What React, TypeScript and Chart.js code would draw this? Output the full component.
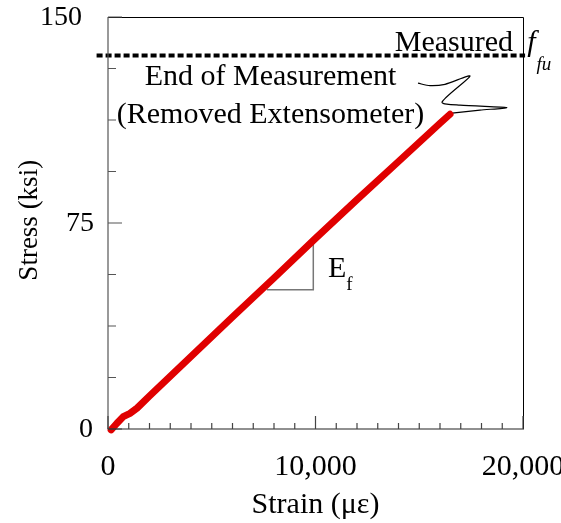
import React, { useEffect, useRef } from "react";
import { Chart, registerables } from "chart.js";

Chart.register(...registerables);

// Measured stress-strain curve (strain in microstrain, stress in ksi)
const strain = [150, 420, 737, 1060, 1400, 2000, 4000, 6000, 8000, 10000, 12000, 14000, 16000, 16482];
const stress = [-0.3, 2.0, 4.5, 5.7, 7.6, 12.0, 26.4, 40.8, 55.0, 69.4, 83.5, 97.4, 111.3, 114.6];

// Measured ultimate strength f_fu
const fFu = 136;
const fFuStrain = [-550, 20100];

// Slope triangle for E_f
const triStrain = [7653, 9894, 9894];
const triStress = [50.7, 50.7, 69.2];

// Callout (zig-zag leader) to end of measurement
const calloutStrain = [14940, 15518, 16241, 17446, 16096, 16964, 19214, 17928, 16578];
const calloutStress = [125.9, 125.0, 125.5, 128.5, 119.0, 117.9, 117.0, 116.1, 115.0];

// Axis ticks and labels
const xMinorTicks = [1000, 2000, 3000, 4000, 5000, 6000, 7000, 8000, 9000, 11000, 12000, 13000, 14000, 15000, 16000, 17000, 18000, 19000];
const xMajorTicks = [0, 10000, 20000];
const xTickLabels = ["0", "10,000", "20,000"];
const yMinorTicks = [18.75, 37.5, 56.25, 93.75, 112.5, 131.25];
const yMajorTicks = [0, 75, 150];
const yTickLabels = ["0", "75", "150"];

const xTitle = "Strain (\u03bc\u03b5)";
const yTitle = "Stress (ksi)";
const noteLine1 = "End of Measurement";
const noteLine2 = "(Removed Extensometer)";
const measuredText = "Measured";

const SERIF = '"Liberation Serif", "Times New Roman", serif';

const pts = (xs: number[], ys: number[]) => xs.map((x, i) => ({ x, y: ys[i] }));

const decorPlugin = {
  id: "decor",
  afterDraw(chart: any) {
    const ctx = chart.ctx as CanvasRenderingContext2D;
    const xs = chart.scales.x;
    const ys = chart.scales.y;
    const { left, right, top, bottom } = chart.chartArea;
    const px = (v: number) => xs.getPixelForValue(v);
    const py = (v: number) => ys.getPixelForValue(v);
    ctx.save();

    // top & right border
    ctx.strokeStyle = "#000";
    ctx.lineWidth = 1;
    ctx.beginPath();
    ctx.moveTo(left, top + 0.5);
    ctx.lineTo(right + 0.5, top + 0.5);
    ctx.lineTo(right + 0.5, bottom);
    ctx.stroke();

    // left axis
    ctx.strokeStyle = "#555";
    ctx.lineWidth = 1.2;
    ctx.beginPath();
    ctx.moveTo(left, top);
    ctx.lineTo(left, bottom);
    ctx.stroke();
    // y ticks (inward)
    ctx.beginPath();
    yMinorTicks.forEach((v) => {
      ctx.moveTo(left, py(v));
      ctx.lineTo(left + 8, py(v));
    });
    yMajorTicks.forEach((v) => {
      ctx.moveTo(left, py(v));
      ctx.lineTo(left + 14, py(v));
    });
    ctx.stroke();

    // bottom axis
    ctx.strokeStyle = "#222";
    ctx.lineWidth = 1.2;
    ctx.beginPath();
    ctx.moveTo(left, bottom);
    ctx.lineTo(right + 1, bottom);
    ctx.stroke();
    ctx.strokeStyle = "#444";
    ctx.beginPath();
    xMinorTicks.forEach((v) => {
      ctx.moveTo(px(v), bottom);
      ctx.lineTo(px(v), bottom - 6);
    });
    xMajorTicks.forEach((v) => {
      ctx.moveTo(px(v), bottom);
      ctx.lineTo(px(v), bottom - 13);
    });
    ctx.stroke();

    ctx.fillStyle = "#000";
    // x tick labels
    ctx.font = `30px ${SERIF}`;
    ctx.textAlign = "center";
    ctx.textBaseline = "alphabetic";
    xMajorTicks.forEach((v, i) => {
      ctx.fillText(xTickLabels[i], px(v), 475);
    });
    // y tick labels
    ctx.font = `28px ${SERIF}`;
    ctx.textAlign = "right";
    ctx.textBaseline = "middle";
    const yLabelRight = [93, 94, 82];
    yMajorTicks.forEach((v, i) => {
      ctx.fillText(yTickLabels[i], yLabelRight[i], py(v) + 1);
    });

    // axis titles
    ctx.font = `30px ${SERIF}`;
    ctx.textAlign = "center";
    ctx.textBaseline = "alphabetic";
    ctx.fillText(xTitle, px(10000), 513);
    ctx.save();
    ctx.translate(37, py(76));
    ctx.rotate(-Math.PI / 2);
    ctx.font = `27px ${SERIF}`;
    ctx.fillText(yTitle, 0, 0);
    ctx.restore();

    // annotations
    ctx.font = `30px ${SERIF}`;
    ctx.textAlign = "center";
    ctx.fillText(noteLine1, px(7831), py(125.2));
    ctx.fillText(noteLine2, px(7831), py(111.3));
    ctx.textAlign = "right";
    ctx.fillText(measuredText, px(19518), py(137.5));
    ctx.textAlign = "left";
    ctx.font = `italic 30px ${SERIF}`;
    ctx.fillText("f", px(20200), py(137.5));
    ctx.font = `italic 19px ${SERIF}`;
    ctx.fillText("fu", px(20650), py(130.8));

    // E_f label
    ctx.font = `30px ${SERIF}`;
    ctx.fillText("E", px(10600), py(55.5));
    ctx.font = `19px ${SERIF}`;
    ctx.fillText("f", px(11480), py(50.7));

    ctx.restore();
  },
};

export default function App() {
  const canvasRef = useRef<HTMLCanvasElement | null>(null);

  useEffect(() => {
    if (!canvasRef.current) return;
    const chart = new Chart(canvasRef.current, {
      type: "line",
      data: {
        datasets: [
          {
            data: pts(strain, stress),
            borderColor: "rgb(224,0,0)",
            borderWidth: 7,
            borderCapStyle: "round",
            borderJoinStyle: "round",
            pointRadius: 0,
            tension: 0,
            clip: false,
          },
          {
            data: pts(triStrain, triStress),
            borderColor: "#777",
            borderWidth: 1.5,
            pointRadius: 0,
            tension: 0,
          },
          {
            data: pts(fFuStrain, [fFu, fFu]),
            borderColor: "#000",
            borderWidth: 4,
            borderDash: [6, 3],
            pointRadius: 0,
            clip: false,
          },
          {
            data: pts(calloutStrain, calloutStress),
            borderColor: "#000",
            borderWidth: 1.2,
            pointRadius: 0,
            tension: 0.25,
            clip: false,
          },
        ] as any,
      },
      options: {
        responsive: false,
        animation: false,
        events: [],
        layout: { padding: { left: 108, right: 38, top: 17, bottom: 94 } },
        plugins: { legend: { display: false }, tooltip: { enabled: false } },
        scales: {
          x: { type: "linear", min: 0, max: 20000, display: false },
          y: { type: "linear", min: 0, max: 150, display: false },
        },
      },
      plugins: [decorPlugin],
    });
    return () => chart.destroy();
  }, []);

  return (
    <div style={{ position: "fixed", left: 0, top: 0, width: 561, height: 523, background: "#fff" }}>
      <canvas ref={canvasRef} width={561} height={523} />
    </div>
  );
}
